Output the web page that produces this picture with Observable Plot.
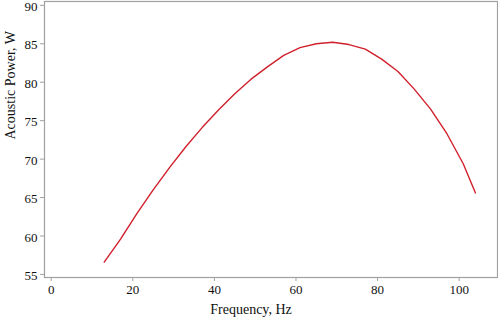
<!DOCTYPE html>
<html>
<head>
<meta charset="utf-8">
<script src="https://cdn.jsdelivr.net/npm/d3@7"></script>
<script src="https://cdn.jsdelivr.net/npm/@observablehq/plot@0.6"></script>
<style>
  html, body { margin: 0; padding: 0; background: #fff; }
  #chart svg { display: block; }
  #chart svg text { font-family: 'Liberation Serif', 'Times New Roman', serif !important; }
</style>
</head>
<body>
<div id="chart"></div>
<script>
const frequency = [13, 17, 21, 25, 29, 33, 37, 41, 45, 49, 53, 57, 61, 65, 69, 73, 77, 81, 85, 89, 93, 97, 101, 104];
const power = [56.6, 59.6, 62.9, 66.0, 68.9, 71.6, 74.1, 76.4, 78.5, 80.4, 82.0, 83.5, 84.5, 85.0, 85.2, 84.9, 84.3, 83.0, 81.4, 79.1, 76.5, 73.3, 69.4, 65.6];
const xTicks = [0, 20, 40, 60, 80, 100];
const yTicks = [55, 60, 65, 70, 75, 80, 85, 90];
const xTitle = "Frequency, Hz";
const yTitle = "Acoustic Power, W";

const data = frequency.map((f, i) => ({f, p: power[i]}));
const serif = "'Liberation Serif', 'Times New Roman', serif";

const chart = Plot.plot({
  width: 498,
  height: 321,
  marginLeft: 44,
  marginRight: 1,
  marginTop: 1,
  marginBottom: 44,
  style: {fontFamily: serif, fontSize: "13px", color: "#111", background: "#fff"},
  x: {domain: [-1.64, 109.4]},
  y: {domain: [54.6, 90.5]},
  marks: [
    Plot.frame({stroke: "#a0a0a0", strokeWidth: 1.2}),
    Plot.axisX({ticks: xTicks, tickSize: 4, tickPadding: 3, stroke: "#a0a0a0", label: null, fontSize: 13, fontFamily: serif, fontVariant: "normal"}),
    Plot.axisY({ticks: yTicks, tickSize: 4, stroke: "#a0a0a0", label: null, text: null}),
    Plot.axisY({ticks: yTicks, tickSize: 0, tickPadding: 7, label: null, fontSize: 13, fontFamily: serif, fontVariant: "normal", dy: 1.5}),
    Plot.text([xTitle], {frameAnchor: "bottom", dy: 36, dx: -20, text: d => d, fontSize: 14, fill: "#111", fontFamily: serif}),
    Plot.text([yTitle], {frameAnchor: "left", dx: -34, rotate: -90, text: d => d, fontSize: 14, fill: "#111", fontFamily: serif}),
    Plot.line(data, {x: "f", y: "p", stroke: "#d0202c", strokeWidth: 1.4})
  ]
});
document.getElementById("chart").append(chart);
</script>
</body>
</html>
